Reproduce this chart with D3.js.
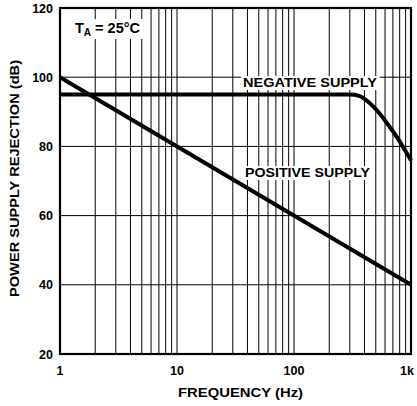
<!DOCTYPE html>
<html>
<head>
<meta charset="utf-8">
<script src="https://cdn.jsdelivr.net/npm/d3@7"></script>
<style>
  body { margin: 0; background: #fff; }
  text { font-family: "Liberation Sans", Arial, sans-serif; font-weight: bold; fill: #000; }
</style>
</head>
<body>
<svg id="chart" width="417" height="406"></svg>
<script>
// chart data
var yTicks = [20, 40, 60, 80, 100, 120];
var xTicks = [1, 10, 100, 1000];
var xTickLabels = ["1", "10", "100", "1k"];

// negative supply rejection, dB vs Hz
var negFreq = [1, 300, 360, 420, 480, 600, 760, 1000];
var negDb   = [95, 95, 94.6, 93.2, 91.4, 87.5, 82.6, 76];

// positive supply rejection, dB vs Hz
var posFreq = [1, 1000];
var posDb   = [100, 40];

var svg = d3.select("#chart");
var pLeft = 60, pRight = 411, pTop = 8, pBottom = 354;

var x = d3.scaleLog().domain([1, 1000]).range([pLeft, pRight]);
var y = d3.scaleLinear().domain([20, 120]).range([pBottom, pTop]);

// log grid lines
var minor = [];
[1, 10, 100].forEach(function(dec) {
    for (var m = 2; m <= 9; m++) minor.push(dec * m);
});
minor = minor.concat([10, 100]);

svg.append("g").selectAll("line").data(minor).enter().append("line")
    .attr("x1", d => x(d)).attr("x2", d => x(d))
    .attr("y1", pTop).attr("y2", pBottom)
    .attr("stroke", "#000").attr("stroke-width", 1);

svg.append("g").selectAll("line").data(yTicks.slice(1, -1)).enter().append("line")
    .attr("x1", pLeft).attr("x2", pRight)
    .attr("y1", d => y(d)).attr("y2", d => y(d))
    .attr("stroke", "#000").attr("stroke-width", 1);

// frame
svg.append("rect")
    .attr("x", pLeft).attr("y", pTop)
    .attr("width", pRight - pLeft).attr("height", pBottom - pTop)
    .attr("fill", "none").attr("stroke", "#000").attr("stroke-width", 2.2);

// tick labels
svg.append("g").selectAll("text").data(yTicks).enter().append("text")
    .attr("x", pLeft - 7).attr("y", d => y(d) + 4.5)
    .attr("text-anchor", "end").style("font-size", "12.5px")
    .text(d => d);

svg.append("g").selectAll("text").data(xTicks).enter().append("text")
    .attr("x", d => d === 1000 ? x(d) - 4 : x(d)).attr("y", 375)
    .attr("text-anchor", "middle").style("font-size", "12.5px")
    .text((d, i) => xTickLabels[i]);

// curves
var line = d3.line().x(d => x(d[0])).y(d => y(d[1])).curve(d3.curveMonotoneX);

svg.append("path")
    .datum(negFreq.map((f, i) => [f, negDb[i]]))
    .attr("d", line)
    .attr("fill", "none").attr("stroke", "#000").attr("stroke-width", 4);

svg.append("path")
    .datum(posFreq.map((f, i) => [f, posDb[i]]))
    .attr("d", d3.line().x(d => x(d[0])).y(d => y(d[1])))
    .attr("fill", "none").attr("stroke", "#000").attr("stroke-width", 4);

// curve labels on white backing
function label(txt, lx, ly, len) {
    var t = svg.append("text").attr("x", lx).attr("y", ly)
        .style("font-size", "12.5px")
        .attr("textLength", len).attr("lengthAdjust", "spacingAndGlyphs")
        .text(txt);
    var bb = t.node().getBBox();
    svg.insert("rect", function() { return t.node(); })
        .attr("x", bb.x - 2).attr("y", bb.y)
        .attr("width", bb.width + 4).attr("height", bb.height)
        .attr("fill", "#fff");
    return t;
}
label("NEGATIVE SUPPLY", 243, 87, 134);
label("POSITIVE SUPPLY", 245, 177, 125);

// temperature note
var ta = svg.append("text").attr("x", 75).attr("y", 33).style("font-size", "14.5px");
ta.append("tspan").text("T");
ta.append("tspan").attr("dy", 3).style("font-size", "10px").text("A");
ta.append("tspan").attr("dy", -3).text(" = 25°C");
var tb = ta.node().getBBox();
svg.insert("rect", function() { return ta.node(); })
    .attr("x", tb.x - 3).attr("y", tb.y - 1)
    .attr("width", tb.width + 6).attr("height", tb.height + 2)
    .attr("fill", "#fff");

// axis titles
svg.append("text")
    .attr("x", 178).attr("y", 397)
    .attr("textLength", 125).attr("lengthAdjust", "spacingAndGlyphs")
    .style("font-size", "12.5px")
    .text("FREQUENCY (Hz)");

svg.append("text")
    .attr("transform", "translate(19,297) rotate(-90)")
    .attr("textLength", 237).attr("lengthAdjust", "spacingAndGlyphs")
    .style("font-size", "12.5px")
    .text("POWER SUPPLY REJECTION (dB)");
</script>
</body>
</html>
